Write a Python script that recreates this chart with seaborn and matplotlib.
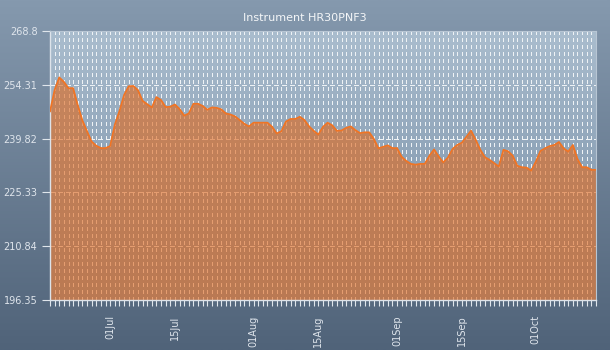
import numpy as np
import pandas as pd
import matplotlib
matplotlib.use("Agg")
import matplotlib.pyplot as plt
import matplotlib.dates as mdates
from matplotlib.colors import LinearSegmentedColormap
import seaborn as sns

title = "Instrument HR30PNF3"
start_date = "2023-06-18"
values = [
    247.1, 252.9, 256.3, 255.1, 253.4, 253.4, 248.8, 244.7, 241.8, 239.0,
    237.9, 237.25, 237.25, 237.8, 243.5, 247.2, 251.5, 253.9, 254.0, 252.9,
    250.0, 249.1, 248.2, 251.0, 250.2, 248.3, 248.4, 249.0, 247.8, 246.0,
    246.6, 249.2, 249.2, 248.6, 247.6, 248.2, 248.1, 247.7, 246.6, 246.3,
    245.8, 244.8, 243.8, 243.1, 244.1, 244.1, 244.1, 244.1, 243.0, 241.2,
    241.8, 244.4, 245.1, 245.1, 245.7, 244.8, 243.1, 241.9, 240.9, 243.0,
    244.1, 243.4, 241.9, 242.0, 242.7, 243.1, 242.1, 241.3, 241.5, 241.5,
    239.7, 237.2, 237.6, 238.0, 237.25, 237.25, 234.9, 233.8, 233.0, 232.8,
    233.0, 233.0, 235.2, 236.9, 235.0, 233.4, 234.7, 237.0, 238.1, 238.7,
    240.3, 241.95, 239.5, 236.8, 234.8, 234.1, 233.2, 232.3, 236.8, 236.4,
    235.2, 232.5, 232.1, 232.0, 231.2, 233.6, 236.5, 237.2, 237.8, 238.1,
    238.9, 237.2, 236.3, 238.1, 234.3, 232.1, 232.1, 231.4, 231.4,
]
y_ticks = [196.35, 210.84, 225.33, 239.82, 254.31, 268.8]
x_tick_dates = ["2023-07-01", "2023-07-15", "2023-08-01", "2023-08-15",
                "2023-09-01", "2023-09-15", "2023-10-01"]

dates = pd.date_range(start_date, periods=len(values), freq="D")
df = pd.DataFrame({"date": dates, "value": values})

sns.set_theme(style="white")
plt.rcParams["font.family"] = ["DejaVu Sans"]

fig = plt.figure(figsize=(6.1, 3.5), dpi=100)

# figure background gradient
bg = fig.add_axes([0, 0, 1, 1], zorder=-10)
bg_cmap = LinearSegmentedColormap.from_list("bg", ["#8599ae", "#506379"])
bg.imshow(np.linspace(0, 1, 256).reshape(-1, 1), cmap=bg_cmap, aspect="auto",
          extent=[0, 1, 0, 1], origin="upper")
bg.set_axis_off()

ax = fig.add_axes([50 / 610, 50 / 350, 546 / 610, 269 / 350])
ax.patch.set_alpha(0)

x0 = mdates.date2num(dates[0])
x1 = mdates.date2num(dates[-1])
ymin, ymax = y_ticks[0], y_ticks[-1]

plot_cmap = LinearSegmentedColormap.from_list("pl", ["#aabdce", "#8ea3b8", "#7e93a9"])
ax.imshow(np.linspace(0, 1, 256).reshape(-1, 1), cmap=plot_cmap, aspect="auto",
          extent=[x0, x1, ymin, ymax], origin="upper", zorder=0)

# daily vertical dashed gridlines
for d in dates:
    ax.axvline(mdates.date2num(d), color="#eef2f5", lw=0.72,
               linestyle=(0, (4, 4)), zorder=1, antialiased=False)
for yv in y_ticks[1:-1]:
    ax.axhline(yv, color="#eef2f5", lw=0.8, linestyle=(0, (4, 3)), zorder=1,
               antialiased=False)

ax.fill_between(dates, values, ymin, color="#e06a1e", alpha=0.62, lw=0, zorder=2)
sns.lineplot(data=df, x="date", y="value", ax=ax, color="#f07424", lw=1.3, zorder=3)

ax.set_xlim(x0, x1)
ax.set_ylim(ymin, ymax)
ax.set_xlabel("")
ax.set_ylabel("")

ax.set_yticks(y_ticks)
ax.set_yticklabels([f"{v:g}" for v in y_ticks])
ax.set_xticks([mdates.date2num(pd.Timestamp(d)) for d in x_tick_dates])
ax.xaxis.set_major_formatter(mdates.DateFormatter("%d%b"))
ax.xaxis.set_minor_locator(mdates.DayLocator())

ax.tick_params(axis="y", which="major", length=6, width=0.8, color="#e0e6ec",
               labelcolor="#dfe5ec", labelsize=7, pad=3, left=True)
ax.tick_params(axis="x", which="major", length=4, width=0.8, color="#e0e6ec",
               labelcolor="#dfe5ec", labelsize=7, pad=7, labelrotation=90, bottom=True)
ax.tick_params(axis="x", which="minor", length=4, width=0.8, color="#e0e6ec", bottom=True)

for side in ["left", "bottom"]:
    ax.spines[side].set_color("#dde3ea")
    ax.spines[side].set_linewidth(1.0)
for side in ["top", "right"]:
    ax.spines[side].set_color("#b8c6d4")
    ax.spines[side].set_linewidth(0.8)

fig.text(305 / 610, 1 - 18 / 350, title, ha="center", va="center",
         color="#f4f6f8", fontsize=8)

fig.savefig("out.png", dpi=100)
